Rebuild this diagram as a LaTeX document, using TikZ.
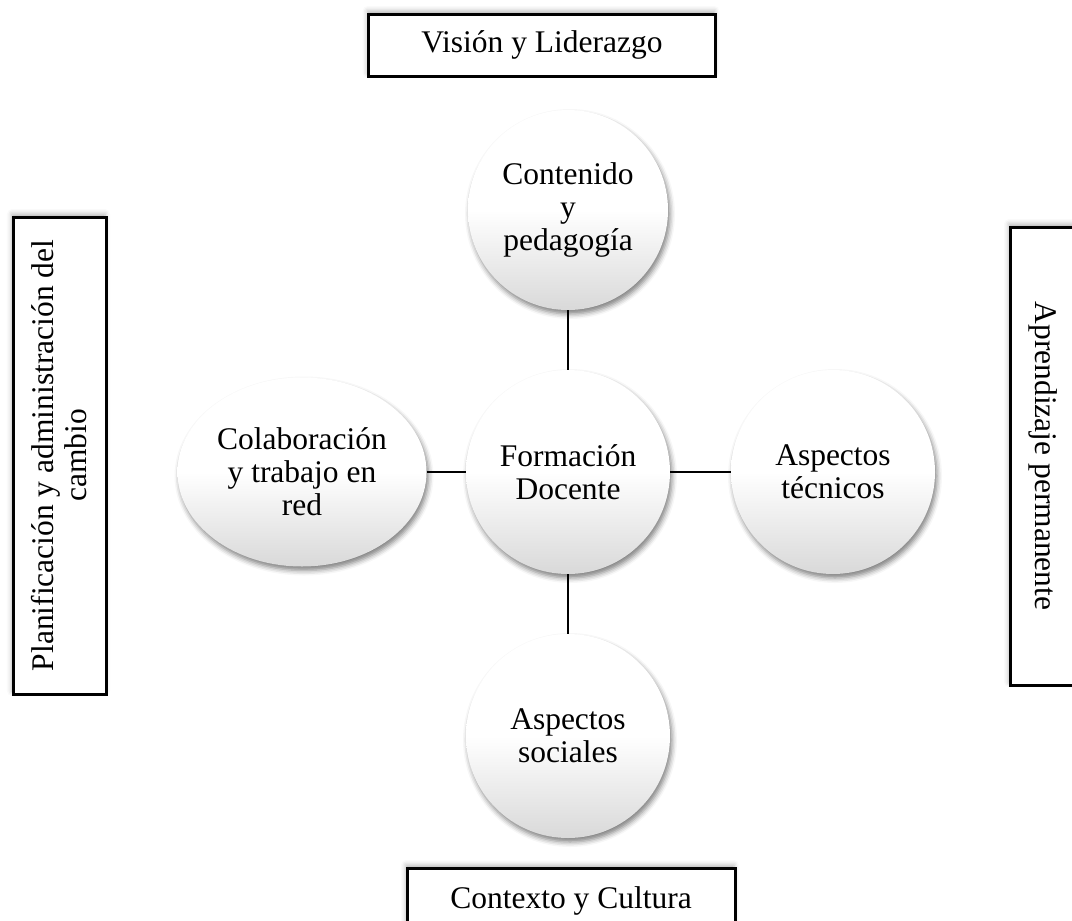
\documentclass[tikz,border=0pt]{standalone}
\usepackage{fontspec}
\setmainfont{Liberation Serif}
\usetikzlibrary{shapes.geometric,shadows.blur}

\begin{document}
\begin{tikzpicture}[x=1pt,y=-1pt,
  every node/.style={font=\fontsize{31.5}{33}\selectfont},
  bola/.style={circle,minimum size=204pt,inner sep=0pt,align=center,
    top color=white,bottom color=black!15,middle color=white,
    blur shadow={shadow xshift=2pt,shadow yshift=-4pt,shadow blur radius=5pt,shadow opacity=50}},
  marco/.style={draw,line width=3pt,fill=white,inner sep=0pt,align=center,
    blur shadow={shadow xshift=-1pt,shadow yshift=3pt,shadow blur radius=5pt,shadow opacity=30}},
  enlace/.style={line width=2.4pt}]
\useasboundingbox (0,0) rectangle (1072,921);
% recuadros exteriores
\node[marco,minimum width=347pt,minimum height=62pt] (vision) at (542,45) {Visión y Liderazgo};
\node[marco,rotate=90,minimum width=477pt,minimum height=93pt] (planif) at (59.5,455.5)
  {Planificación y administración del\\cambio};
\node[marco,rotate=-90,minimum width=458pt,minimum height=66pt] (aprend) at (1043,456) {Aprendizaje permanente};
\node[marco,minimum width=328pt,minimum height=66pt] (contexto) at (571,901) {Contexto y Cultura};
% circulos
\node[bola] (formacion) at (568,472) {Formación\\Docente};
\node[bola,minimum size=200pt] (contenido) at (568,210) {Contenido\\y\\pedagogía};
\node[bola] (tecnicos) at (833,472) {Aspectos\\técnicos};
\node[bola] (sociales) at (568,736) {Aspectos\\sociales};
\node[bola,ellipse,minimum width=249pt,minimum height=189pt] (colab) at (302,472)
  {Colaboración\\y trabajo en\\red};
% enlaces
\draw[enlace] (contenido) -- (formacion);
\draw[enlace] (formacion) -- (tecnicos);
\draw[enlace] (formacion) -- (sociales);
\draw[enlace] (colab) -- (formacion);
\end{tikzpicture}
\end{document}
